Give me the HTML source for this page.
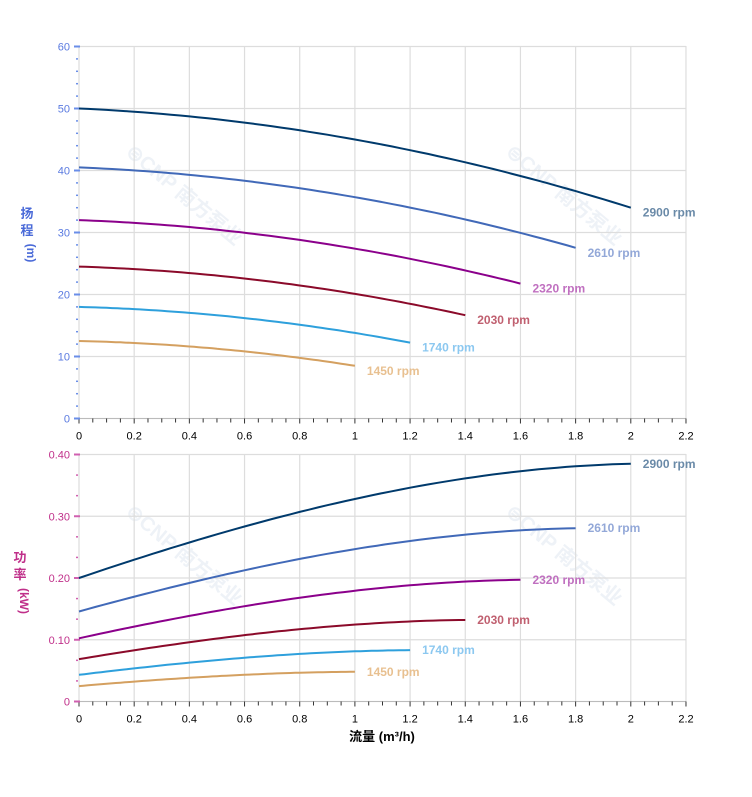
<!DOCTYPE html>
<html><head><meta charset="utf-8"><style>
body{margin:0;background:#fff;}
svg{display:block;font-family:"Liberation Sans","Noto Sans CJK SC",sans-serif;}
</style></head><body>
<svg id="s" width="752" height="797" xmlns="http://www.w3.org/2000/svg"></svg>
<script>
const s=document.getElementById('s');let h='';
const X0=79,XU=275.9;const xp=q=>X0+q*XU;
const T0=418.5,TU=6.2;const ty=v=>T0-v*TU;
const B0=701.5,BU=617.5;const by=v=>B0-v*BU;
// watermarks
[[180,200],[560,200],[180,560],[560,560]].forEach(([x,y])=>h+=`<text x="${x}" y="${y}" font-size="20" font-weight="bold" fill="#eef2f7" text-anchor="middle" transform="rotate(40 ${x} ${y})">⊜CNP 南方泵业</text>`);
function grid(y0,y1,hs){
 for(let i=0;i<=11;i++){h+=`<line x1="${xp(i*0.2)}" y1="${y1}" x2="${xp(i*0.2)}" y2="${y0}" stroke="#ddd" stroke-width="1.2"/>`;}
 hs.forEach(y=>h+=`<line x1="${X0}" y1="${y}" x2="${xp(2.2)}" y2="${y}" stroke="#ddd" stroke-width="1.2"/>`);
 h+=`<line x1="${X0}" y1="${y0}" x2="${xp(2.2)}" y2="${y0}" stroke="#bbb"/>`;
 for(let i=0;i<=44;i++){const x=xp(i*0.05);h+=`<line x1="${x}" y1="${y0}" x2="${x}" y2="${y0+(i%4==0?5:4)}" stroke="#333"/>`;}
 for(let i=0;i<=11;i++){h+=`<text x="${xp(i*0.2)}" y="${y0+21}" font-size="11" text-anchor="middle" fill="#000">${i==0?'0':(i*0.2).toFixed(1).replace(/\.0$/,'')}</text>`;}
}
let hs=[];for(let v=0;v<=60;v+=10)hs.push(ty(v));grid(T0,46,hs);
for(let v=0;v<=60;v+=2){const y=ty(v);const maj=v%10==0;h+=`<line x1="${maj?74:76}" y1="${y}" x2="${maj?80:78}" y2="${y}" stroke="#6a8ee8" stroke-width="${maj?2:1.5}"/>`;if(maj)h+=`<text x="70" y="${y+4}" font-size="11" text-anchor="end" fill="#5a7ae0">${v}</text>`;}
hs=[];for(let v=0;v<=4;v++)hs.push(by(v/10));grid(B0,454,hs);
for(let i=0;i<=12;i++){const y=by(i/30);const maj=i%3==0;h+=`<line x1="${maj?74:76}" y1="${y}" x2="${maj?80:78}" y2="${y}" stroke="#d060b0" stroke-width="${maj?2:1.5}"/>`;if(maj)h+=`<text x="70" y="${y+4}" font-size="11" text-anchor="end" fill="#c0308a">${i==0?'0':(i/30).toFixed(2)}</text>`;}
h+=`<text x="27" y="218" font-size="13" font-weight="bold" fill="#4a6ad8" text-anchor="middle">扬</text><text x="27" y="235" font-size="13" font-weight="bold" fill="#4a6ad8" text-anchor="middle">程</text><text x="27" y="253" font-size="12" font-weight="bold" fill="#4a6ad8" text-anchor="middle" transform="rotate(90 27 253)">(m)</text>`;
h+=`<text x="20" y="562" font-size="13" font-weight="bold" fill="#c0308a" text-anchor="middle">功</text><text x="20" y="579" font-size="13" font-weight="bold" fill="#c0308a" text-anchor="middle">率</text><text x="20" y="601" font-size="12" font-weight="bold" fill="#c0308a" text-anchor="middle" transform="rotate(90 20 601)">(kW)</text>`;
h+=`<text x="382" y="741" font-size="13" font-weight="bold" fill="#000" text-anchor="middle">流量 (m³/h)</text>`;
const S=[[1,'#003a6c','#6a8aa8','2900'],[0.9,'#4169b8','#93a8d8','2610'],[0.8,'#8b008b','#c070c0','2320'],[0.7,'#8b0a2a','#c06070','2030'],[0.6,'#2ea0dc','#8cc8f0','1740'],[0.5,'#d4a060','#e8c090','1450']];
const H=(q,r)=>50*r*r-2*r*q-3*q*q;
const P=(q,r)=>{const u=q/r;return r*r*r*(0.2+0.152*u-0.01825*u*u-0.00575*u*u*u);};
S.forEach(([r,c,lc,n])=>{let a='',b='';const qm=2*r;
 for(let i=0;i<=60;i++){const q=qm*i/60;a+=(i?'L':'M')+xp(q).toFixed(1)+' '+ty(H(q,r)).toFixed(1);b+=(i?'L':'M')+xp(q).toFixed(1)+' '+by(P(q,r)).toFixed(1);}
 h+=`<path d="${a}" fill="none" stroke="${c}" stroke-width="2"/><path d="${b}" fill="none" stroke="${c}" stroke-width="2"/>`;
 h+=`<text x="${xp(qm)+12}" y="${ty(H(qm,r))+9}" font-size="12" font-weight="bold" fill="${lc}">${n} rpm</text>`;
 h+=`<text x="${xp(qm)+12}" y="${by(P(qm,r))+4}" font-size="12" font-weight="bold" fill="${lc}">${n} rpm</text>`;
});
s.innerHTML=h;
</script>
</body></html>
